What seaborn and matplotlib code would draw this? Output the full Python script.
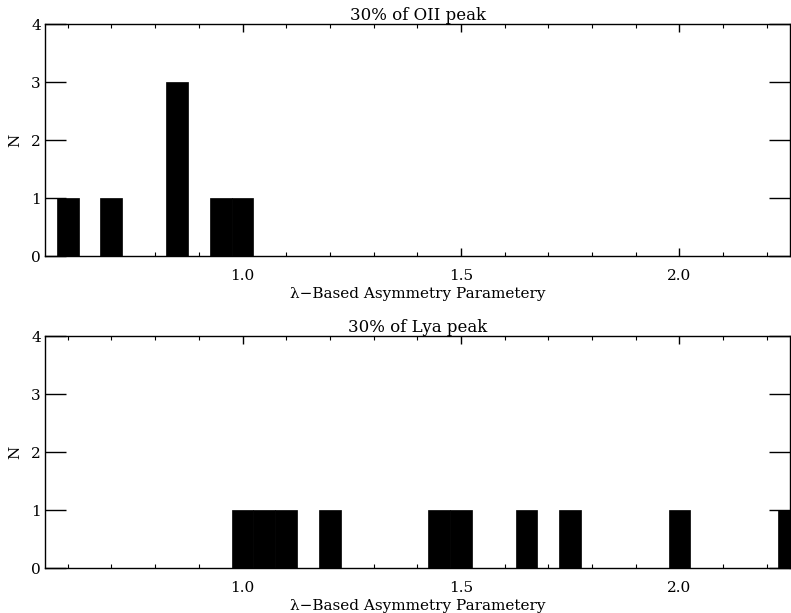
import numpy as np
import pandas as pd
import matplotlib
matplotlib.use("Agg")
import matplotlib.pyplot as plt
import seaborn as sns

# histogram bins (bin centre -> count)
oii_centers = [0.60, 0.70, 0.85, 0.95, 1.00]
oii_counts = [1, 1, 3, 1, 1]

lya_centers = [1.00, 1.05, 1.10, 1.20, 1.45, 1.50, 1.65, 1.75, 2.00, 2.25]
lya_counts = [1, 1, 1, 1, 1, 1, 1, 1, 1, 1]

titles = ["30% of OII peak", "30% of Lya peak"]
xlabel = "\u03bb\u2212Based Asymmetry Parametery"
ylabel = "N"

sns.set_style("ticks")
plt.rcParams['font.family'] = ['DejaVu Serif']
plt.rcParams['font.size'] = 11
plt.rcParams['axes.edgecolor'] = 'black'
plt.rcParams['text.color'] = 'black'
plt.rcParams['axes.labelcolor'] = 'black'
plt.rcParams['xtick.color'] = 'black'
plt.rcParams['ytick.color'] = 'black'

fig = plt.figure(figsize=(7.91, 6.13), dpi=100)
ax_top = fig.add_axes([45 / 791, 1 - 256 / 613, 745 / 791, 232 / 613])
ax_bot = fig.add_axes([45 / 791, 1 - 568 / 613, 745 / 791, 232 / 613])

panels = [(ax_top, oii_centers, oii_counts), (ax_bot, lya_centers, lya_counts)]
for (ax, centers, counts), title in zip(panels, titles):
    df = pd.DataFrame({'x': centers, 'n': counts})
    sns.histplot(data=df, x='x', weights='n', binwidth=0.05,
                 binrange=(0.525, 2.325), ax=ax,
                 color='black', edgecolor='black', linewidth=0.5, alpha=1)
    ax.set_xlim(0.548, 2.253)
    ax.set_ylim(0, 4)
    ax.set_xticks([1.0, 1.5, 2.0])
    ax.set_xticklabels(["1.0", "1.5", "2.0"])
    ax.set_xticks(np.arange(0.6, 2.26, 0.1), minor=True)
    ax.set_yticks([0, 1, 2, 3, 4])
    ax.tick_params(axis='x', which='major', direction='in', length=6, width=1,
                   top=True, bottom=True, pad=9, labelsize=11)
    ax.tick_params(axis='x', which='minor', direction='in', length=3, width=0.8,
                   top=True, bottom=True)
    ax.tick_params(axis='y', which='major', direction='in', length=15, width=1,
                   left=True, right=True, pad=3, labelsize=11)
    for s in ax.spines.values():
        s.set_visible(True)
        s.set_linewidth(1)
        s.set_color('black')
    ax.set_title(title, fontsize=12, pad=3)
    ax.set_xlabel(xlabel, fontsize=11, labelpad=3)
    ax.set_ylabel(ylabel, fontsize=11, labelpad=6)

fig.savefig("out.png", dpi=100)
plt.close(fig)
